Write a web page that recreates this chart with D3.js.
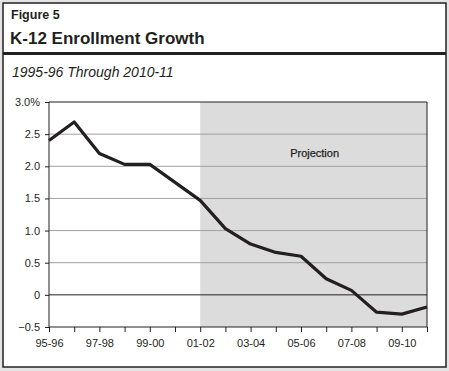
<!DOCTYPE html>
<html>
<head>
<meta charset="utf-8">
<script src="https://cdn.jsdelivr.net/npm/d3@7"></script>
<style>
  body { margin: 0; background: #e4e4e4; }
  svg { display: block; font-family: "Liberation Sans", Arial, sans-serif; }
</style>
</head>
<body>
<div id="chart"></div>
<script>
// Data
const years = ['95-96', '96-97', '97-98', '98-99', '99-00', '00-01', '01-02', '02-03',
               '03-04', '04-05', '05-06', '06-07', '07-08', '08-09', '09-10', '10-11'];
const growth = [2.40, 2.69, 2.20, 2.03, 2.03, 1.75, 1.47, 1.03,
                0.79, 0.66, 0.60, 0.25, 0.07, -0.27, -0.30, -0.19];
const yTicks = [-0.5, 0, 0.5, 1.0, 1.5, 2.0, 2.5, 3.0];
const labelYears = ['95-96', '97-98', '99-00', '01-02', '03-04', '05-06', '07-08', '09-10'];
const projectionStart = '01-02';

const W = 449, H = 371;
const margin = { top: 102, right: 22, bottom: 44, left: 49 },
    width = 427 - margin.left,
    height = 327 - margin.top;

const svg = d3.select('#chart')
  .append('svg')
    .attr('width', W)
    .attr('height', H);

// outer panel
svg.append('rect')
    .attr('x', 3).attr('y', 3)
    .attr('width', 443).attr('height', 364)
    .style('fill', '#fff')
    .style('stroke', '#231f20')
    .style('stroke-width', 1.5);

svg.append('text')
    .attr('x', 11).attr('y', 19)
    .style('font-size', '12.5px').style('font-weight', 'bold')
    .style('fill', '#231f20')
    .text('Figure 5');

svg.append('text')
    .attr('x', 10).attr('y', 44)
    .style('font-size', '17px').style('font-weight', 'bold')
    .style('fill', '#231f20')
    .text('K-12 Enrollment Growth');

svg.append('rect')
    .attr('x', 3).attr('y', 52)
    .attr('width', 443).attr('height', 3)
    .style('fill', '#231f20');

svg.append('text')
    .attr('x', 12).attr('y', 77)
    .style('font-size', '14px').style('font-style', 'italic')
    .style('fill', '#231f20')
    .text('1995-96 Through 2010-11');

const g = svg.append('g')
    .attr('transform', 'translate(' + margin.left + ',' + margin.top + ')');

const xScale = d3.scalePoint()
    .domain(years)
    .range([0, width]);

const yScale = d3.scaleLinear()
    .domain([-0.5, 3.0])
    .range([height, 0]);

// projection shading
g.append('rect')
    .attr('x', xScale(projectionStart))
    .attr('y', 0)
    .attr('width', width - xScale(projectionStart))
    .attr('height', height)
    .style('fill', '#dcdcdc');

g.append('text')
    .attr('x', (xScale(projectionStart) + width) / 2 + 1)
    .attr('y', yScale(2.15))
    .attr('text-anchor', 'middle')
    .style('font-size', '11px')
    .style('fill', '#231f20')
    .style('stroke', '#231f20')
    .style('stroke-width', 0.25)
    .text('Projection');

// gridlines
g.selectAll('line.grid')
    .data(yTicks.filter(function(d) { return d > -0.5; }))
    .enter()
    .append('line')
      .attr('class', 'grid')
      .attr('x1', 0).attr('x2', width)
      .attr('y1', function(d) { return yScale(d); })
      .attr('y2', function(d) { return yScale(d); })
      .style('stroke', function(d) { return (d === 0 || d === 3.0) ? '#231f20' : '#a0a0a0'; })
      .style('stroke-width', function(d) { return d === 3.0 ? 1.2 : 1; });

// right frame
g.append('line')
    .attr('x1', width).attr('x2', width)
    .attr('y1', 0).attr('y2', height)
    .style('stroke', '#231f20');

// Y axis
const yAxis = g.append('g')
    .call(d3.axisLeft(yScale)
      .tickValues(yTicks)
      .tickSize(4)
      .tickPadding(5)
      .tickFormat(function(d) { return d === 3.0 ? '3.0%' : (d === 0 ? '0' : d3.format('.1f')(d)); }));
yAxis.select('.domain').attr('d', 'M0,0V' + height).style('stroke', '#231f20');
yAxis.selectAll('text').style('font-size', '11px').style('fill', '#231f20')
    .style('font-family', '"Liberation Sans", Arial, sans-serif');
yAxis.selectAll('.tick line').style('stroke', '#231f20');

// X axis
const xAxis = g.append('g')
    .attr('transform', 'translate(0,' + height + ')')
    .call(d3.axisBottom(xScale)
      .tickSize(5)
      .tickPadding(7)
      .tickFormat(function(d) { return labelYears.indexOf(d) >= 0 ? d : ''; }));
xAxis.select('.domain').attr('d', 'M0,0H' + width).style('stroke', '#231f20');
xAxis.selectAll('text').style('font-size', '11px').style('fill', '#231f20')
    .style('font-family', '"Liberation Sans", Arial, sans-serif');
xAxis.selectAll('.tick line').style('stroke', '#231f20');

// growth line
const line = d3.line()
    .x(function(d, i) { return xScale(years[i]); })
    .y(function(d) { return yScale(d); });

g.append('path')
    .datum(growth)
    .attr('d', line)
    .style('fill', 'none')
    .style('stroke', '#231f20')
    .style('stroke-width', 3.2)
    .style('stroke-linejoin', 'round');
</script>
</body>
</html>
